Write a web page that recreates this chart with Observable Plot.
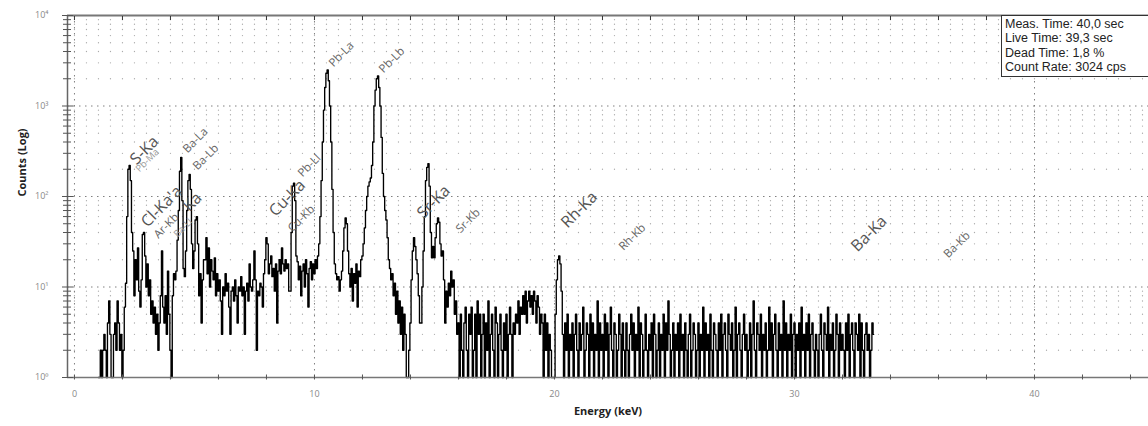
<!DOCTYPE html>
<html><head><meta charset="utf-8">
<script src="https://cdn.jsdelivr.net/npm/d3@7"></script>
<script src="https://cdn.jsdelivr.net/npm/@observablehq/plot@0.6"></script>
<style>
body{margin:0;background:#fff;}
#wrap{position:relative;width:1148px;height:426px;overflow:hidden;background:#fff;}
#info{position:absolute;left:1001px;top:15px;width:160px;height:62px;border:1px solid #333;background:#fff;font:12.5px "Liberation Sans",Arial,sans-serif;line-height:14.4px;color:#222;padding:1px 0 0 3px;box-sizing:border-box;white-space:nowrap;}
</style></head><body>
<div id="wrap"><div id="info"></div></div>
<script>
// Spectrum: counts per 0.05 keV channel starting at 1.00 keV
const startEnergy = 1.0;
const stepEnergy = 0.05;
const counts = [
  1,1,2,1,2,3,2,1,4,7,3,1,1,3,4,2,7,4,2,3,
  1,2,6,11,60,200,220,150,40,25,8,20,12,27,9,6,12,38,40,22,
  10,18,8,12,5,7,4,6,3,5,2,4,8,25,6,4,8,3,15,5,
  2,1,8,14,12,15,33,70,190,270,90,16,13,25,70,150,175,120,30,16,
  25,55,60,30,8,14,4,12,20,20,35,14,27,10,20,15,12,21,8,14,
  9,12,7,3,10,8,14,9,11,6,3,9,10,7,12,8,4,10,9,13,
  8,10,3,9,11,7,18,10,9,12,25,12,2,9,8,11,10,6,14,20,
  35,30,14,18,22,13,16,9,18,4,15,20,14,27,18,15,20,16,18,9,
  9,40,130,140,90,22,19,12,17,8,15,18,10,20,14,6,16,19,12,18,
  14,20,16,22,30,60,150,400,900,1600,2300,2500,1900,1000,400,120,40,18,14,12,
  13,9,12,15,25,45,58,50,25,14,10,16,7,14,11,18,6,15,13,20,
  22,30,45,70,100,130,145,160,220,400,1000,1500,2000,2150,1600,1000,450,180,100,70,
  55,35,20,16,12,14,8,11,5,9,4,7,3,6,2,5,3,1,1,2,
  4,12,25,35,28,20,14,8,4,4,10,25,60,150,210,230,130,40,21,28,
  21,35,50,58,52,30,22,25,12,4,9,6,11,8,15,10,12,5,7,3,
  4,1,5,2,1,4,6,2,1,5,3,6,1,2,5,1,7,3,5,1,
  3,5,1,4,2,7,1,3,5,2,1,6,4,1,3,5,2,1,4,2,
  5,1,3,6,3,1,4,3,5,4,7,3,6,5,8,5,9,4,7,9,
  6,8,5,9,7,4,8,6,3,5,4,1,5,2,4,1,3,2,1,1,
  1,5,12,20,22,18,9,3,1,4,2,5,1,3,2,4,1,3,5,2,
  1,4,2,3,6,1,2,4,3,1,5,2,4,1,3,2,7,1,4,2,
  3,1,5,2,4,1,3,6,2,1,4,3,1,2,5,3,1,4,2,1,
  4,2,1,3,5,2,4,1,3,2,6,1,4,3,1,2,5,2,1,3,
  2,4,1,5,3,1,2,4,1,3,2,5,1,4,2,7,3,1,2,4,
  1,3,2,4,1,5,2,3,1,4,2,1,3,5,1,2,4,3,1,2,
  4,1,3,2,6,1,4,2,3,1,5,2,1,4,3,2,1,4,2,5,
  1,3,4,2,1,5,3,2,4,1,2,6,1,3,4,2,1,3,5,2,
  3,1,2,4,1,3,7,2,1,4,3,2,5,1,3,2,4,1,2,6,
  2,4,1,3,5,2,1,4,2,3,1,7,2,4,1,3,2,5,1,3,
  4,1,3,2,4,1,6,2,3,1,4,2,5,1,3,4,2,1,3,2,
  1,3,5,2,1,4,3,2,6,1,3,2,4,1,2,5,3,1,4,2,
  3,2,1,4,2,5,1,3,4,2,1,4,3,2,5,1,4,2,1,3,
  4,2,3,1,2,4,3
];

// Peak labels
const majorNames = ["S-Ka", "Cl-Ka'a", "Ka", "Cu-Ka", "Sr-Ka", "Rh-Ka", "Ba-Ka"];
const majorEnergies = [2.29, 2.75, 4.5, 8.08, 14.25, 20.25, 32.33];
const majorCounts = [220, 45, 67, 59, 56, 44, 24];

const minorNames = ["Ar-Kb", "Ba-La", "Ba-Lb", "Cu-Kb", "Pb-Ll", "Pb-La", "Pb-Lb", "Sr-Kb", "Rh-Kb", "Ba-Kb"];
const minorEnergies = [3.29, 4.5, 4.92, 8.875, 9.29, 10.58, 12.67, 15.875, 22.67, 36.2];
const minorCounts = [34, 299, 194, 40, 162, 2663, 2286, 39, 25, 20.6];

const faintNames = ["Pb-Ma", "Ba-Ll"];
const faintEnergies = [2.54, 4.125];
const faintCounts = [184, 35];

// Axis ticks
const decades = [1, 10, 100, 1000, 10000];
const minorMultipliers = [2, 3, 4, 5, 6, 7, 8, 9];
const xMajorTicks = [0, 10, 20, 30, 40];
const xMinorStep = 2;
const gridStep = 0.5;

const infoLines = ["Meas. Time: 40,0 sec", "Live Time: 39,3 sec", "Dead Time: 1,8 %", "Count Rate: 3024 cps"];

// ---- build tables ----
const spectrum = counts.map((c, i) => ({energy: +(startEnergy + i * stepEnergy).toFixed(2), count: c}));
const mkLabels = (n, e, c) => n.map((name, i) => ({name, energy: e[i], count: c[i]}));
const majorLabels = mkLabels(majorNames, majorEnergies, majorCounts);
const minorLabels = mkLabels(minorNames, minorEnergies, minorCounts);
const faintLabels = mkLabels(faintNames, faintEnergies, faintCounts);

const xMin = -0.29, xMax = 44.75;
const minorY = decades.slice(0, 4).flatMap(d => minorMultipliers.map(m => m * d));
const gridX = d3.range(0, 44.75, gridStep);
const xMinorTicks = d3.range(0, 44.75, xMinorStep);
const gridDots = gridX.flatMap(x => minorY.map(y => ({x, y})));
const sup = "⁰¹²³⁴";

const chart = Plot.plot({
  width: 1148, height: 426,
  marginLeft: 67, marginRight: 0, marginTop: 15, marginBottom: 49,
  x: {domain: [xMin, xMax]},
  y: {type: "log", domain: [1, 10000]},
  style: {fontFamily: "'Open Sans', sans-serif", background: "white", overflow: "visible"},
  marks: [
    Plot.dot(gridDots, {x: "x", y: "y", r: 0.65, fill: "#ababab"}),
    Plot.ruleX(xMajorTicks, {stroke: "#808080", strokeDasharray: "1.5,4.5"}),
    Plot.ruleY(decades.slice(1, 4), {stroke: "#808080", strokeDasharray: "1.5,4.5"}),
    Plot.line(spectrum, {x: "energy", y: "count", curve: "step", stroke: "#000", strokeWidth: 1.35}),
    // frame lines
    Plot.ruleY([10000], {stroke: "#777", strokeWidth: 2}),
    Plot.ruleY([1], {stroke: "#777", strokeWidth: 1.5}),
    Plot.ruleX([xMin], {stroke: "#666", strokeWidth: 1.5}),
    // y ticks (crossing axis)
    Plot.axisY({ticks: decades, tickSize: 11, dx: 6, tickFormat: () => "", stroke: "#555"}),
    Plot.axisY({ticks: minorY, tickSize: 8, dx: 4, tickFormat: () => "", stroke: "#555"}),
    Plot.axisY({ticks: decades, tickSize: 0, tickPadding: 19, tickFormat: d => "10" + sup[Math.round(Math.log10(d))], fill: "#888", fontSize: 9}),
    // x ticks
    Plot.axisX({ticks: xMinorTicks, tickSize: 5, dy: -2.5, tickFormat: () => "", stroke: "#555"}),
    Plot.axisX({ticks: xMinorTicks, anchor: "top", tickSize: 4, dy: 4, tickFormat: () => "", stroke: "#333"}),
    Plot.axisX({ticks: xMajorTicks, tickSize: 0, tickPadding: 13, fill: "#888", fontSize: 9, label: null}),
    // axis titles
    Plot.text(["Energy (keV)"], {frameAnchor: "bottom", dy: 37, fontWeight: "bold", fontSize: 11, fill: "#222"}),
    Plot.text(["Counts (Log)"], {frameAnchor: "left", dx: -45, rotate: -90, fontWeight: "bold", fontSize: 11, fill: "#222"}),
    // peak labels
    Plot.text(faintLabels, {x: "energy", y: "count", text: "name", rotate: -45, textAnchor: "start", lineAnchor: "bottom", dx: 4, fontSize: 9.5, fill: "#9a9a9a"}),
    Plot.text(majorLabels, {x: "energy", y: "count", text: "name", rotate: -45, textAnchor: "start", lineAnchor: "bottom", dx: 7, fontSize: 16, fill: "#555"}),
    Plot.text(minorLabels, {x: "energy", y: "count", text: "name", rotate: -45, textAnchor: "start", lineAnchor: "bottom", dx: 5, fontSize: 11.5, fill: "#666"})
  ]
});
const wrap = document.getElementById("wrap");
wrap.insertBefore(chart, wrap.firstChild);
document.getElementById("info").innerHTML = infoLines.join("<br>");
</script>
</body></html>
